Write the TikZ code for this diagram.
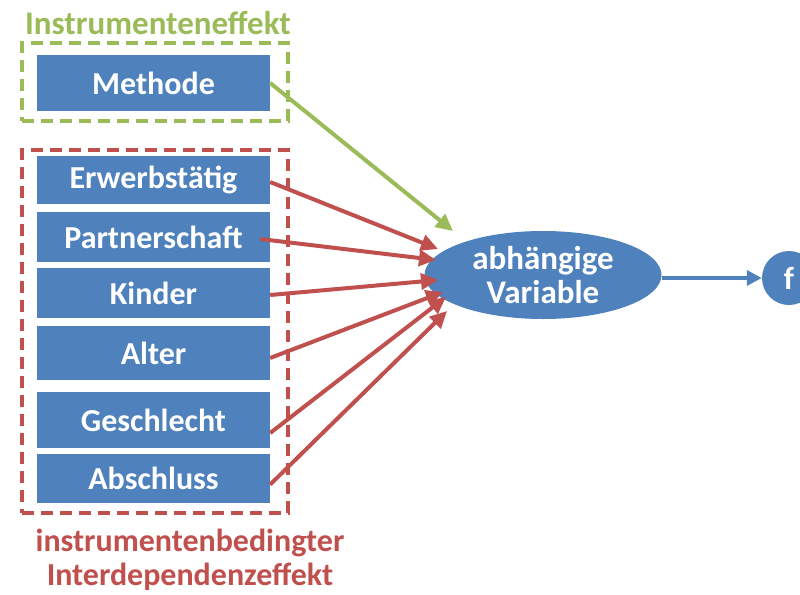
\documentclass[tikz,border=0pt]{standalone}
\usepackage{fontspec}
\setmainfont{Carlito}
\usetikzlibrary{arrows.meta,shapes.geometric}
\definecolor{obl}{HTML}{4F81BD}
\definecolor{ored}{HTML}{C0504D}
\definecolor{ogr}{HTML}{9BBB59}
\tikzset{
  varbox/.style={rectangle, fill=obl, text=white, font=\fontsize{32}{34}\selectfont\bfseries, minimum width=233pt, inner sep=0pt, anchor=center},
  grpbox/.style={draw, line width=3.2pt, dash pattern=on 12pt off 7pt},
  redarr/.style={draw=ored, line width=4pt, -{Triangle[length=17pt,width=16pt]}},
  grnarr/.style={draw=ogr, line width=4pt, -{Triangle[length=17pt,width=16pt]}},
  bluarr/.style={draw=obl, line width=3.5pt, -{Triangle[length=15pt,width=15pt]}},
  lbl/.style={font=\fontsize{32}{34}\selectfont\bfseries, align=center, inner sep=0pt}
}
\begin{document}
\begin{tikzpicture}[x=1pt,y=-1pt]
\useasboundingbox (0,0) rectangle (800,594);
\clip (0,0) rectangle (800,594);
% group frames
\node[grpbox, draw=ogr, rectangle, minimum width=266pt, minimum height=78pt, inner sep=0pt] (gframe) at (155,82) {};
\node[grpbox, draw=ored, rectangle, minimum width=266pt, minimum height=363pt, inner sep=0pt] (rframe) at (155,331.5) {};
% labels
\node[lbl, text=ogr, font=\fontsize{33}{34}\selectfont\bfseries] (gtitle) at (158,23) {Instrumenteneffekt};
\node[lbl, text=ored] (rtitle) at (190,560) {instrumentenbedingter\\Interdependenzeffekt};
% boxes
\node[varbox, minimum height=56pt] (meth) at (153.5,83) {Methode};
\node[varbox, minimum height=48pt] (erw) at (153.5,180) {Erwerbstätig};
\node[varbox, minimum height=50pt] (part) at (153.5,237) {Partnerschaft};
\node[varbox, minimum height=50pt] (kind) at (153.5,293) {Kinder};
\node[varbox, minimum height=54pt] (alt) at (153.5,353) {Alter};
\node[varbox, minimum height=56pt] (ges) at (153.5,420) {Geschlecht};
\node[varbox, minimum height=49pt] (abs) at (153.5,478.5) {Abschluss};
% dependent variable
\node[ellipse, fill=obl, text=white, minimum width=237pt, minimum height=88pt, inner sep=0pt, align=center, font=\fontsize{33}{34}\selectfont\bfseries] (dv) at (543,275) {abhängige\\Variable};
\node[circle, fill=obl, text=white, minimum size=54pt, inner sep=0pt, font=\fontsize{32}{34}\selectfont\bfseries] (f) at (789,278) {f};
% arrow tips
\coordinate (tg) at (453,231);
\coordinate (t1) at (438,249);
\coordinate (t2) at (436,260);
\coordinate (t3) at (438,280);
\coordinate (t4) at (443,292);
\coordinate (t5) at (446,297);
\coordinate (t6) at (447,311);
% connectors
\draw[grnarr] (meth.east) -- (tg);
\draw[redarr] ([yshift=-2pt]erw.east) -- (t1);
\draw[redarr] ([xshift=-10pt,yshift=-2pt]part.east) -- (t2);
\draw[redarr] ([yshift=-2pt]kind.east) -- (t3);
\draw[redarr] ([yshift=-5pt]alt.east) -- (t4);
\draw[redarr] ([yshift=-13pt]ges.east) -- (t5);
\draw[redarr] ([yshift=-6pt]abs.east) -- (t6);
\draw[bluarr] (dv.east |- f.west) -- (f.west);
\end{tikzpicture}
\end{document}
